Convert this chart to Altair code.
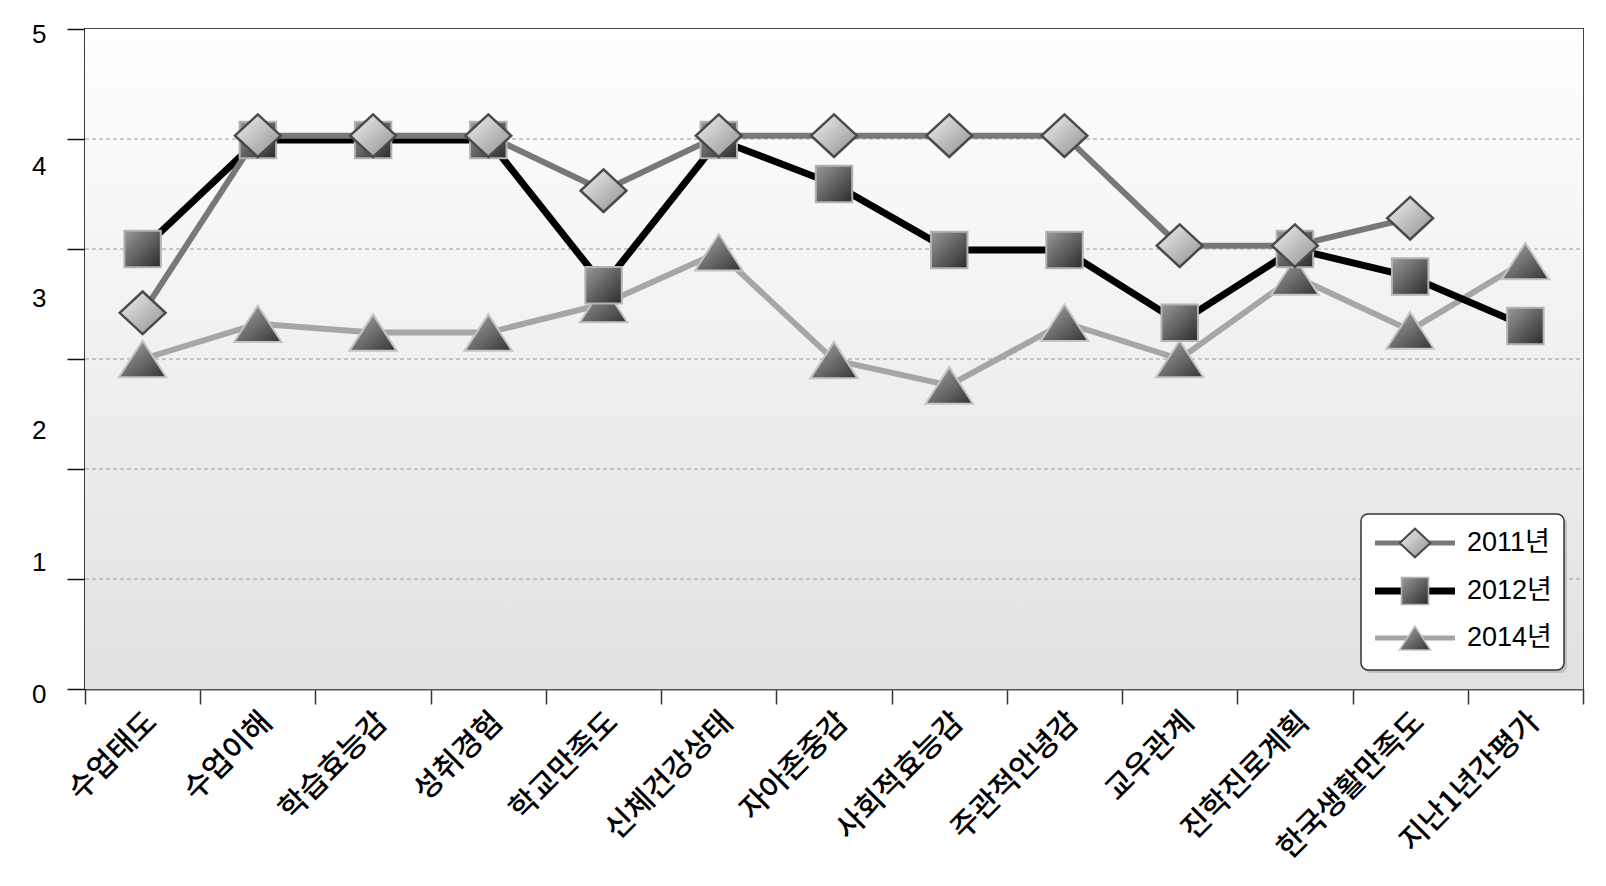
import json
import altair as alt
import pandas as pd

# ---------------- data ----------------
categories = ["수업태도", "수업이해", "학습효능감", "성취경험", "학교만족도", "신체건강상태",
              "자아존중감", "사회적효능감", "주관적안녕감", "교우관계", "진학진로계획",
              "한국생활만족도", "지난1년간평가"]
series_names = ["2011년", "2012년", "2014년"]
v2011 = [3.42, 5.03, 5.03, 5.03, 4.53, 5.03, 5.03, 5.03, 5.03, 4.03, 4.03, 4.28, None]
v2012 = [4.00, 4.99, 4.99, 4.99, 3.67, 4.99, 4.59, 3.99, 3.99, 3.33, 4.00, 3.75, 3.30]
v2014 = [3.00, 3.32, 3.24, 3.24, 3.50, 3.97, 2.99, 2.76, 3.33, 3.00, 3.75, 3.26, 3.89]
grid_values = [1, 2, 3, 4, 5]
y_tick_labels = ["0", "1", "2", "3", "4", "5"]

W, H = 1498, 660

rows = []
for name, vals in zip(series_names, [v2011, v2012, v2014]):
    for c, v in zip(categories, vals):
        if v is not None:
            rows.append({"category": c, "series": name, "value": v})
df = pd.DataFrame(rows)


def grad(c0, c1, x2=1, y2=1):
    return alt.Gradient(gradient="linear", x1=0, y1=0, x2=x2, y2=y2,
                        stops=[alt.GradientStop(offset=0, color=c0),
                               alt.GradientStop(offset=1, color=c1)])


DIAMOND = "M-1,0 L0,-0.93 L1,0 L0,0.93 Z"
TRI = "M0,-0.77 L1,0.77 L-1,0.77 Z"

styles = {
    "2011년": dict(line="#787878", lw=6, shape=DIAMOND, size=2100,
                  fill=grad("#f2f2f2", "#8e8e8e"), stroke="#4a4a4a", sw=2.5, lsize=950, llw=5),
    "2012년": dict(line="#000000", lw=7, shape="square", size=1330,
                  fill=grad("#9a9a9a", "#2a2a2a"), stroke="#b3b3b3", sw=2, lsize=730, llw=7),
    "2014년": dict(line="#a6a6a6", lw=6, shape=TRI, size=2250,
                  fill=grad("#ababab", "#333333"), stroke="#c4c4c4", sw=2, lsize=960, llw=5),
}

# y axis: ticks at the integer gridlines, labels 0..5 spread over the full height
label_pos = [round(1.2 * k, 6) for k in range(6)]
y_values = sorted(set(list(range(7)) + label_pos))
label_expr = ("abs(datum.value/1.2 - round(datum.value/1.2)) < 0.001 ? "
              + json.dumps(y_tick_labels) + "[round(datum.value/1.2)] : ''")
is_int = "abs(datum.value - round(datum.value)) < 0.001"

x_enc = alt.X("category:N", sort=categories,
              scale=alt.Scale(type="band", paddingInner=0, paddingOuter=0, domain=categories),
              axis=alt.Axis(title=None, labelAngle=-45, labelAlign="right", labelBaseline="middle",
                            labelFontSize=30, labelFont="Noto Sans CJK KR", labelColor="#000",
                            labelFontWeight=500, labelOffset=9,
                            labelPadding=13, labelLimit=0, tickBand="extent", tickSize=15,
                            tickColor="#333", tickWidth=1.5, domainColor="#555", domainWidth=2,
                            grid=False, labelOverlap=False))
y_scale = alt.Scale(domain=[0, 6], nice=False, zero=True)
y_enc = alt.Y("value:Q", scale=y_scale,
              axis=alt.Axis(title=None, values=y_values, labelExpr=label_expr,
                            labelOverlap=False, labelFontSize=26, labelFont="Liberation Sans",
                            labelColor="#000", labelPadding=21, labelOffset=5,
                            tickSize=18, tickColor="#111", tickWidth=1.5,
                            tickOpacity={"condition": {"test": is_int, "value": 1}, "value": 0},
                            domainColor="#222", domainWidth=1.5, grid=False))

one = pd.DataFrame({"k": [0]})

bg = alt.Chart(one).mark_rect(fill=grad("#ffffff", "#e1e1e1", x2=0, y2=1)).encode(
    x=alt.value(0), x2=alt.value(W), y=alt.value(0), y2=alt.value(H))

grid = alt.Chart(pd.DataFrame({"value": grid_values})).mark_rule(
    color="#9a9a9a", strokeDash=[4, 3], strokeWidth=1).encode(
    y=y_enc, x=alt.value(0), x2=alt.value(W))

layers = [bg, grid]
order = ["2014년", "2012년", "2011년"]
for s in order:
    st = styles[s]
    layers.append(alt.Chart(df).transform_filter(alt.datum.series == s).mark_line(
        color=st["line"], strokeWidth=st["lw"], strokeJoin="miter").encode(x=x_enc, y=y_enc))
for s in order:
    st = styles[s]
    layers.append(alt.Chart(df).transform_filter(alt.datum.series == s).mark_point(
        shape=st["shape"], size=st["size"], filled=True, fill=st["fill"], stroke=st["stroke"],
        strokeWidth=st["sw"], opacity=1).encode(x=x_enc, y=y_enc))

# legend box
LX0, LY0, LX1, LY1 = 1276, 485, 1479, 641
layers.append(alt.Chart(one).mark_rect(fill="#9a9a9a", opacity=0.45, cornerRadius=7).encode(
    x=alt.value(LX0 + 3), x2=alt.value(LX1 + 3), y=alt.value(LY0 + 3), y2=alt.value(LY1 + 3)))
layers.append(alt.Chart(one).mark_rect(fill="#ffffff", stroke="#333333", strokeWidth=1.5,
                                       cornerRadius=7).encode(
    x=alt.value(LX0), x2=alt.value(LX1), y=alt.value(LY0), y2=alt.value(LY1)))
row_y = [514, 562, 609]
for s, ry in zip(series_names, row_y):
    st = styles[s]
    d = pd.DataFrame({"label": [s]})
    layers.append(alt.Chart(d).mark_rule(color=st["line"], strokeWidth=st["llw"]).encode(
        x=alt.value(1290), x2=alt.value(1370), y=alt.value(ry)))
    layers.append(alt.Chart(d).mark_point(shape=st["shape"], size=st["lsize"], filled=True,
                                          fill=st["fill"], stroke=st["stroke"],
                                          strokeWidth=st["sw"] * 0.8, opacity=1).encode(
        x=alt.value(1330), y=alt.value(ry)))
    layers.append(alt.Chart(d).mark_text(align="left", baseline="middle", fontSize=27,
                                         font="Liberation Sans, Noto Sans CJK KR",
                                         color="#000").encode(
        x=alt.value(1382), y=alt.value(ry), text="label:N"))

chart = alt.layer(*layers).properties(
    width=W, height=H,
    autosize=alt.AutoSizeParams(type="none"),
    padding={"left": 85, "top": 29, "right": 23, "bottom": 197},
    background="#ffffff",
).configure_view(stroke="#444444", strokeWidth=2)

chart.save("out.html", embed_options={"renderer": "svg", "actions": False})
